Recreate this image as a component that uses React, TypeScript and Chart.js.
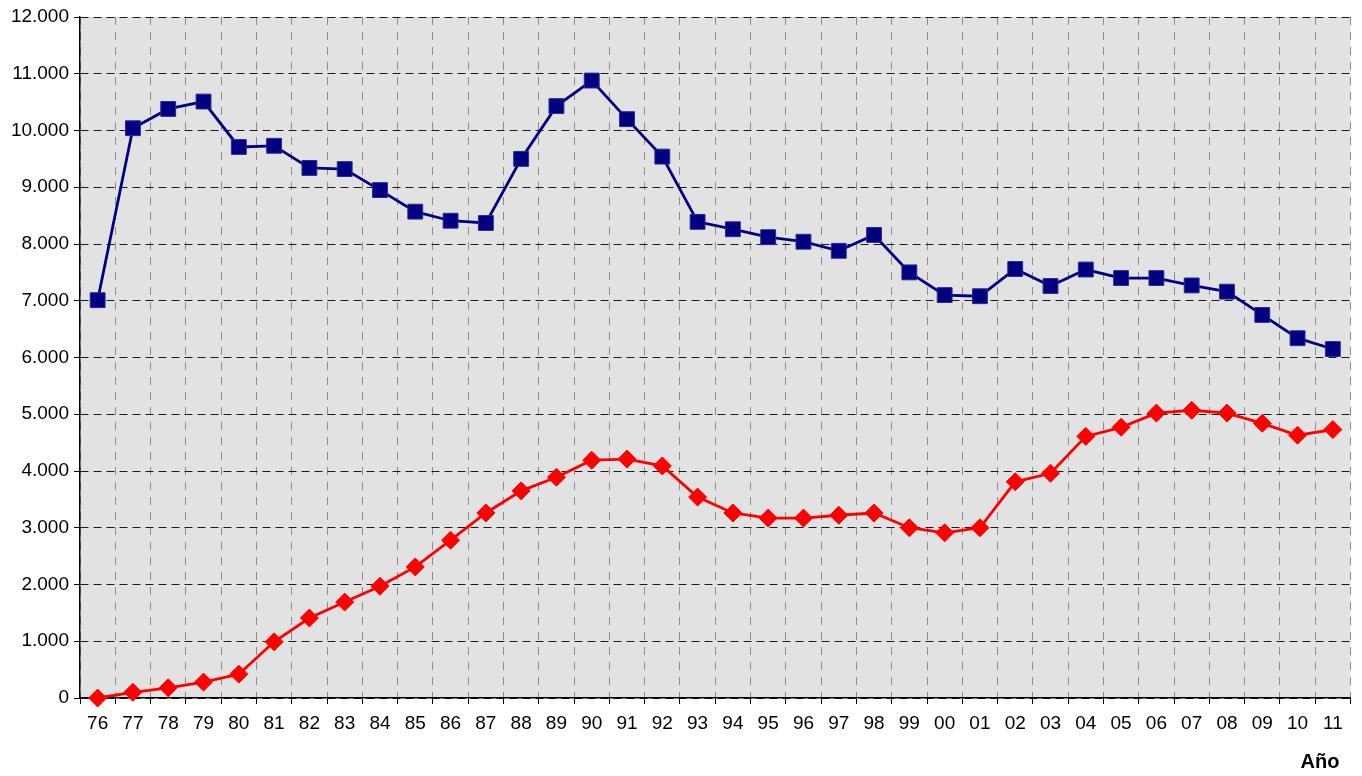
import React, { useEffect, useRef } from 'react';
import { Chart, registerables } from 'chart.js';

Chart.register(...registerables);

const years = ['76', '77', '78', '79', '80', '81', '82', '83', '84', '85', '86', '87', '88', '89', '90', '91', '92', '93', '94', '95', '96', '97', '98', '99', '00', '01', '02', '03', '04', '05', '06', '07', '08', '09', '10', '11'];

const blueSeries = [7010, 10040, 10380, 10510, 9710, 9730, 9340, 9320, 8950, 8570, 8410, 8370, 9500, 10430, 10880, 10200, 9540, 8390, 8260, 8120, 8040, 7880, 8160, 7500, 7100, 7080, 7560, 7260, 7550, 7400, 7400, 7270, 7160, 6750, 6340, 6150];

const redSeries = [0, 100, 180, 280, 420, 990, 1410, 1690, 1970, 2310, 2780, 3260, 3650, 3890, 4190, 4210, 4090, 3540, 3260, 3170, 3170, 3220, 3260, 3000, 2910, 3000, 3810, 3960, 4610, 4770, 5020, 5070, 5020, 4840, 4630, 4730];

const yMin = 0;
const yMax = 12000;
const yStep = 1000;
const xTitle = 'Año';

const FONT = "'Liberation Sans', Arial, sans-serif";

const bgPlugin = {
  id: 'plotBg',
  beforeDraw(chart: any) {
    const { ctx, chartArea } = chart;
    ctx.save();
    ctx.fillStyle = '#E2E2E2';
    ctx.fillRect(chartArea.left, chartArea.top, chartArea.right - chartArea.left, chartArea.bottom - chartArea.top);
    ctx.restore();
  },
};

const titlePlugin = {
  id: 'xTitle',
  afterDraw(chart: any) {
    const { ctx, chartArea } = chart;
    ctx.save();
    ctx.font = `bold 20px ${FONT}`;
    ctx.fillStyle = '#000';
    ctx.textAlign = 'right';
    ctx.textBaseline = 'middle';
    ctx.fillText(xTitle, chartArea.right - 11, 762);
    ctx.restore();
  },
};

function formatThousands(v: number): string {
  if (v === 0) return '0';
  const s = String(Math.round(v));
  return s.replace(/\B(?=(\d{3})+(?!\d))/g, '.');
}

export default function App() {
  const canvasRef = useRef<HTMLCanvasElement | null>(null);

  useEffect(() => {
    document.body.style.margin = '0';
    const canvas = canvasRef.current;
    if (!canvas) return;
    const chart = new Chart(canvas, {
      type: 'line',
      data: {
        labels: years,
        datasets: [
          {
            label: 'A',
            data: blueSeries,
            borderColor: '#000080',
            backgroundColor: '#000080',
            borderWidth: 2.8,
            pointStyle: 'rect',
            pointRadius: 10.5,
            pointHoverRadius: 10.5,
            pointBorderWidth: 1,
            pointBorderColor: '#2a2a90',
            tension: 0,
            clip: false,
          },
          {
            label: 'B',
            data: redSeries,
            borderColor: '#FF0000',
            backgroundColor: '#FF0000',
            borderWidth: 2.8,
            pointStyle: 'rectRot',
            pointRadius: 9,
            pointHoverRadius: 9,
            pointBorderWidth: 1,
            tension: 0,
            clip: false,
          },
        ],
      },
      options: {
        responsive: false,
        animation: false,
        devicePixelRatio: 1,
        layout: { padding: { left: 0, top: 17, right: 10, bottom: 0 } },
        plugins: {
          legend: { display: false },
          tooltip: { enabled: false },
          title: { display: false },
        },
        scales: {
          x: {
            type: 'category',
            offset: true,
            afterFit(scale: any) {
              scale.height = 78;
            },
            grid: {
              display: true,
              offset: true,
              color: '#8c8c8c',
              lineWidth: 1,
              tickLength: 6,
              tickColor: '#000',
              tickBorderDash: [],
              tickWidth: 1,
            },
            border: { display: true, color: '#000', width: 1.5, dash: [8, 7] },
            ticks: {
              color: '#000',
              font: { family: FONT, size: 19 },
              padding: 8,
              maxRotation: 0,
              autoSkip: false,
            },
          },
          y: {
            type: 'linear',
            min: yMin,
            max: yMax,
            afterFit(scale: any) {
              scale.width = 80;
            },
            grid: {
              display: true,
              color: '#1a1a1a',
              lineWidth: 1,
              tickLength: 6,
              tickColor: '#000',
              tickBorderDash: [],
              tickWidth: 1,
            },
            border: { display: true, color: '#000', width: 1.5, dash: [8, 5] },
            ticks: {
              stepSize: yStep,
              color: '#000',
              font: { family: FONT, size: 19 },
              padding: 5,
              callback: (v: any) => formatThousands(Number(v)),
            },
          },
        },
      },
      plugins: [bgPlugin, titlePlugin],
    });
    return () => chart.destroy();
  }, []);

  return (
    <div style={{ position: 'absolute', left: 0, top: 0, width: 1362, height: 776, background: '#fff' }}>
      <canvas ref={canvasRef} width={1362} height={776} style={{ width: 1362, height: 776, display: 'block' }} />
    </div>
  );
}
